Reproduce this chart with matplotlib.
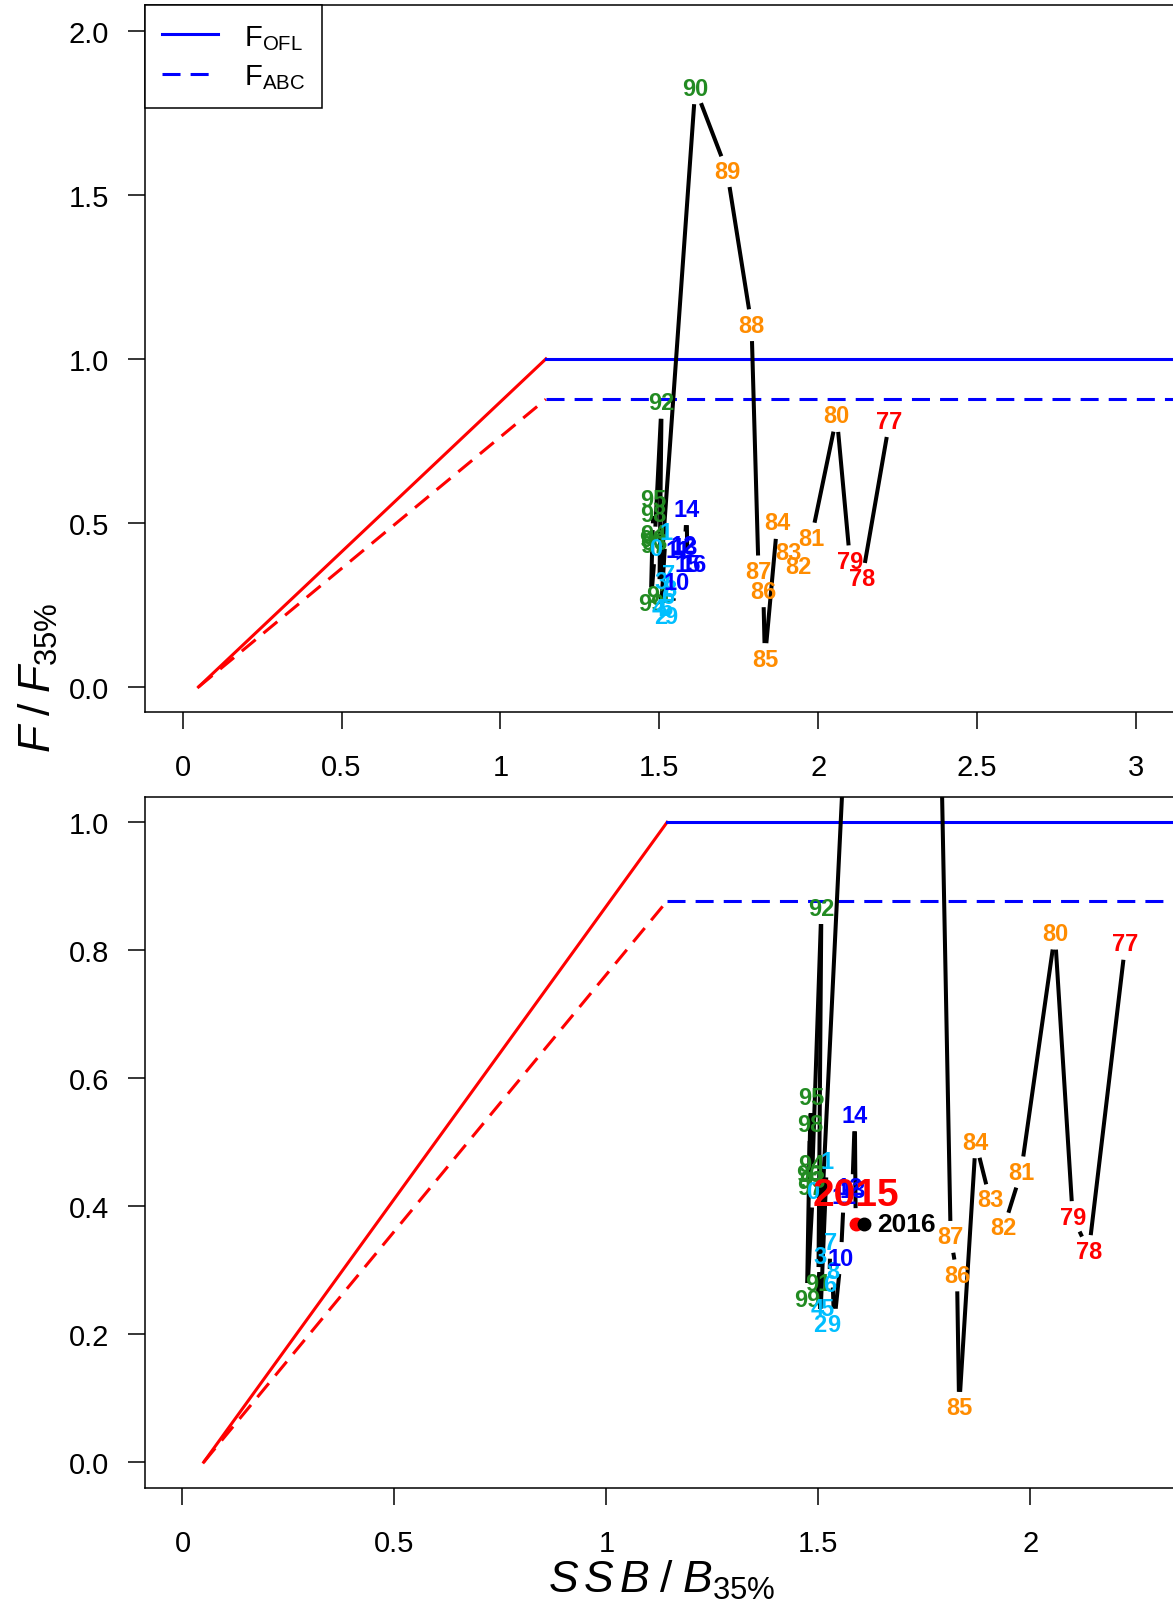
import matplotlib
matplotlib.use('Agg')
import matplotlib.pyplot as plt
from matplotlib.lines import Line2D
import numpy as np

plt.rcParams['font.family'] = ['Liberation Sans', 'DejaVu Sans']
plt.rcParams['mathtext.fontset'] = 'custom'
plt.rcParams['mathtext.rm'] = 'Liberation Sans'
plt.rcParams['mathtext.it'] = 'Liberation Sans:italic'

# phase plot data, 1977-2016
years = list(range(1977, 2017))
ssb_ratio = [2.224, 2.138, 2.100, 2.058, 1.978, 1.937, 1.905, 1.871, 1.832, 1.827,
             1.812, 1.790, 1.713, 1.613, 1.500, 1.507, 1.485, 1.482, 1.482, 1.478,
             1.480, 1.480, 1.473, 1.487, 1.520, 1.504, 1.504, 1.497, 1.520, 1.526,
             1.528, 1.533, 1.537, 1.553, 1.560, 1.575, 1.580, 1.586, 1.588, 1.608]
f_ratio = [0.810, 0.330, 0.383, 0.826, 0.453, 0.366, 0.410, 0.500, 0.085, 0.292,
           0.352, 1.103, 1.572, 1.825, 0.280, 0.866, 0.440, 0.465, 0.570, 0.450,
           0.430, 0.527, 0.255, 0.423, 0.470, 0.215, 0.322, 0.240, 0.240, 0.277,
           0.343, 0.298, 0.215, 0.319, 0.415, 0.430, 0.425, 0.542, 0.372, 0.372]

# harvest control rule
alpha = 0.05
b40_b35 = 1.143
fabc_fofl = 0.877

W, H = 1173, 1608
fig = plt.figure(figsize=(W / 100, H / 100), dpi=100)


def decade_colour(yr):
    if yr < 1980:
        return 'red'
    if yr < 1990:
        return 'darkorange'
    if yr < 2000:
        return 'forestgreen'
    if yr < 2010:
        return 'deepskyblue'
    return 'blue'


def gapped_path(ax, xs, ys, gap=16):
    # lines between points with a gap round each label (like R type="c")
    tr = ax.transData
    pts = tr.transform(np.column_stack([xs, ys]))
    inv = tr.inverted()
    for p1, p2 in zip(pts[:-1], pts[1:]):
        d = p2 - p1
        L = np.hypot(*d)
        if L <= 2 * gap:
            continue
        a = p1 + d / L * gap
        b = p2 - d / L * gap
        seg = inv.transform(np.vstack([a, b]))
        ax.plot(seg[:, 0], seg[:, 1], color='black', lw=2.9,
                solid_capstyle='butt', zorder=3)


def panel(rect, xlim, ylim, xticks, xlabels, yticks, ylabels):
    ax = fig.add_axes(rect)
    ax.set_xlim(xlim)
    ax.set_ylim(ylim)
    ax.set_xticks(xticks)
    ax.set_xticklabels(xlabels)
    ax.set_yticks(yticks)
    ax.set_yticklabels(ylabels)
    ax.tick_params(labelsize=21, length=12.5, width=1.1)
    ax.tick_params(axis='x', pad=17)
    ax.tick_params(axis='y', pad=13)
    for s in ax.spines.values():
        s.set_linewidth(1.1)
    # control rule
    ax.plot([alpha, b40_b35], [0, 1], color='red', lw=2.2)
    ax.plot([alpha, b40_b35], [0, fabc_fofl], color='red', lw=2.2,
            linestyle=(0, (5.9, 3.3)))
    ax.plot([b40_b35, 10], [1, 1], color='blue', lw=2.2)
    ax.plot([b40_b35, 10], [fabc_fofl, fabc_fofl], color='blue', lw=2.2,
            linestyle=(0, (5.9, 3.3)))
    return ax


# top panel: full range
ax1 = panel([144.6 / W, 1 - 712.6 / H, (1180 - 144.6) / W, (712.6 - 6.2) / H],
            (-0.1195, 3.138), (-0.075, 2.078),
            [0, 0.5, 1, 1.5, 2, 2.5, 3], ['0', '0.5', '1', '1.5', '2', '2.5', '3'],
            [0, 0.5, 1, 1.5, 2], ['0.0', '0.5', '1.0', '1.5', '2.0'])
gapped_path(ax1, ssb_ratio, f_ratio)
for yr, x, y in zip(years, ssb_ratio, f_ratio):
    ax1.text(x, y, str(yr % 100), color=decade_colour(yr), fontsize=17,
             fontweight='bold', ha='center', va='center', zorder=4, clip_on=True)

handles = [Line2D([], [], color='blue', lw=2.2),
           Line2D([], [], color='blue', lw=2.2, linestyle=(0, (5.9, 3.3)))]
leg = ax1.legend(handles, [r'$\mathrm{F_{OFL}}$', r'$\mathrm{F_{ABC}}$'],
                 loc='upper left', borderaxespad=0, fancybox=False,
                 edgecolor='black', framealpha=1, fontsize=21,
                 handlelength=1.9, handletextpad=0.9, labelspacing=0.35,
                 borderpad=0.6)
leg.get_frame().set_linewidth(1.1)

# bottom panel: zoomed in
ax2 = panel([144.6 / W, 1 - 1488.8 / H, (1180 - 144.6) / W, (1488.8 - 797.7) / H],
            (-0.0894, 2.353), (-0.040, 1.040),
            [0, 0.5, 1, 1.5, 2], ['0', '0.5', '1', '1.5', '2'],
            [0, 0.2, 0.4, 0.6, 0.8, 1.0], ['0.0', '0.2', '0.4', '0.6', '0.8', '1.0'])
gapped_path(ax2, ssb_ratio, f_ratio)
for yr, x, y in zip(years[:-2], ssb_ratio[:-2], f_ratio[:-2]):
    ax2.text(x, y, str(yr % 100), color=decade_colour(yr), fontsize=17,
             fontweight='bold', ha='center', va='center', zorder=4, clip_on=True)
ax2.plot(ssb_ratio[-2], f_ratio[-2], 'o', color='red', ms=9, zorder=5)
ax2.plot(ssb_ratio[-1], f_ratio[-1], 'o', color='black', ms=9, zorder=5)
ax2.annotate(str(years[-2]), (ssb_ratio[-2], f_ratio[-2]), xytext=(0, 8),
             textcoords='offset points', ha='center', va='bottom', color='red',
             fontsize=28, fontweight='bold', zorder=6)
ax2.annotate(str(years[-1]), (ssb_ratio[-1], f_ratio[-1]), xytext=(9, 0),
             textcoords='offset points', ha='left', va='center', color='black',
             fontsize=19, fontweight='bold', zorder=6)

fig.text(38 / W, 1 - 678 / H, r'$F\;/\;F_{\mathit{35\%}}$', rotation=90,
         ha='center', va='center', fontsize=32)
fig.text(662 / W, 1 - 1580 / H, r'$S\,S\,B\;/\;B_{\mathit{35\%}}$',
         ha='center', va='center', fontsize=32)

fig.savefig('out.png', dpi=100)
